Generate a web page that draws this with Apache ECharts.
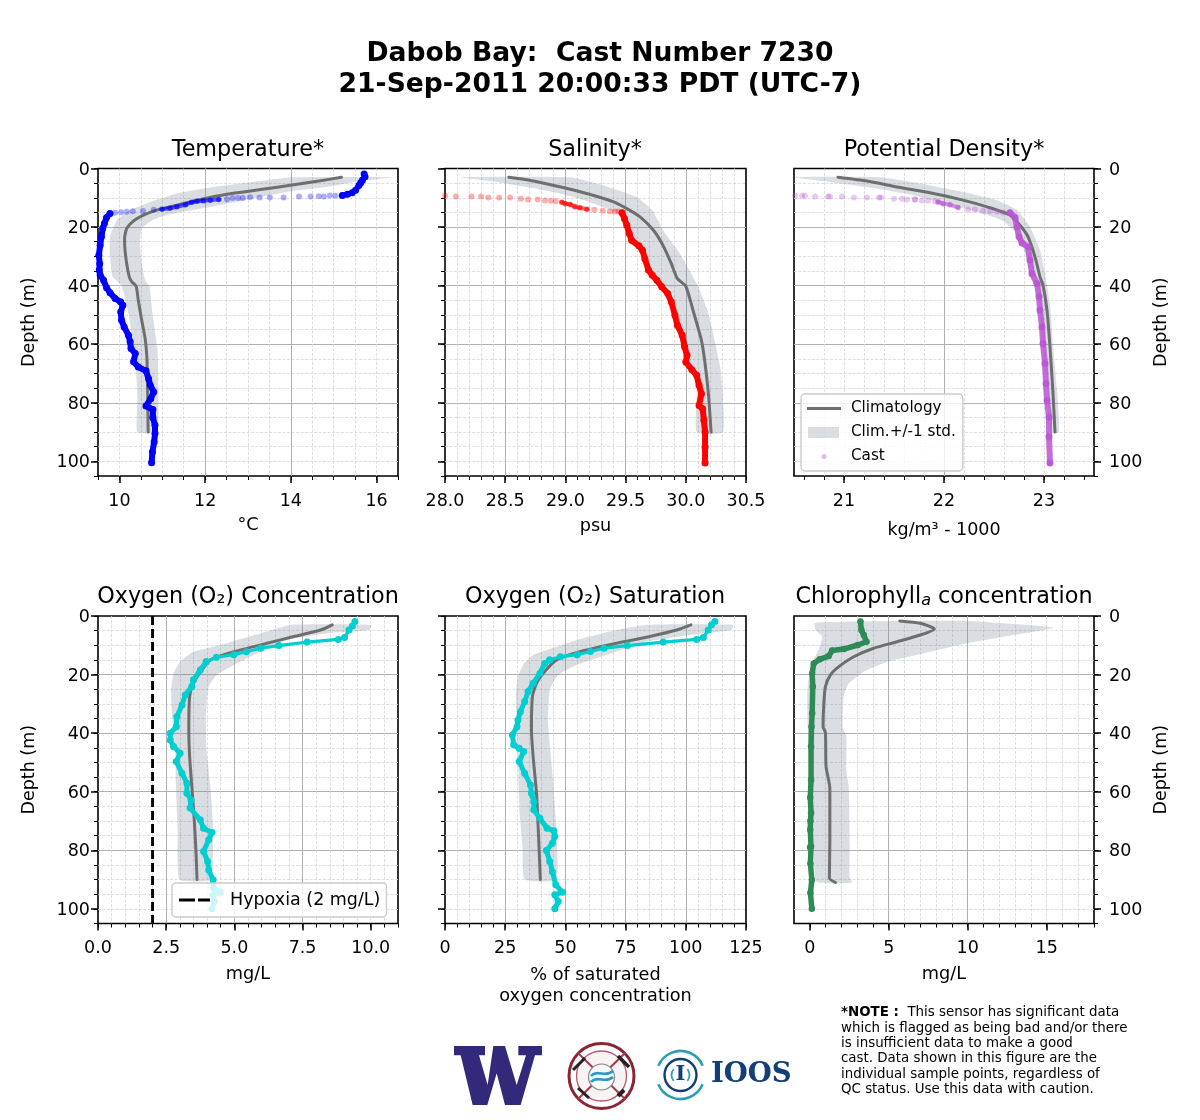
<!DOCTYPE html>
<html><head><meta charset="utf-8">
<style>html,body{margin:0;padding:0;background:#fff}#c{width:1200px;height:1120px}</style>
<script src="https://cdn.jsdelivr.net/npm/echarts@6/dist/echarts.min.js"></script>
</head><body><div id="c"></div>
<script>
/* ---------- tick lists ---------- */
const depthMajor=[0,20,40,60,80,100];
const depthMinor=[0,5,10,15,20,25,30,35,40,45,50,55,60,65,70,75,80,85,90,95,100,105];
const tempMajor=[10,12,14,16];
const tempMinor=[9.5,10,10.5,11,11.5,12,12.5,13,13.5,14,14.5,15,15.5,16,16.5];
const salMajor=[28,28.5,29,29.5,30,30.5];
const salMinor=[28,28.1,28.2,28.3,28.4,28.5,28.6,28.7,28.8,28.9,29,29.1,29.2,29.3,29.4,29.5,29.6,29.7,29.8,29.9,30,30.1,30.2,30.3,30.4,30.5];
const rhoMajor=[21,22,23];
const rhoMinor=[20.6,20.8,21,21.2,21.4,21.6,21.8,22,22.2,22.4,22.6,22.8,23,23.2,23.4];
const doMajor=[0,2.5,5,7.5,10];
const doMinor=[0,0.5,1,1.5,2,2.5,3,3.5,4,4.5,5,5.5,6,6.5,7,7.5,8,8.5,9,9.5,10,10.5,11];
const satMajor=[0,25,50,75,100,125];
const satMinor=[0,5,10,15,20,25,30,35,40,45,50,55,60,65,70,75,80,85,90,95,100,105,110,115,120,125];
const chlMajor=[0,5,10,15];
const chlMinor=[0,1,2,3,4,5,6,7,8,9,10,11,12,13,14,15,16,17,18];

/* ---------- temperature ---------- */
const tempClim=[[15.18,3],[14.69,4.2],[13.99,5.7],[13.29,7.2],[12.51,8.8],[11.89,10.6],[11.34,12.5],[10.87,14.2],[10.56,15.9],[10.33,17.9],[10.17,20.5],[10.12,23.9],[10.13,27.9],[10.17,32.5],[10.23,37],[10.29,38.7],[10.39,40.2],[10.44,45],[10.52,51.8],[10.6,58.1],[10.64,64.4],[10.65,70],[10.66,78],[10.67,90]];
const tempLow=[[14.03,3],[12.98,4.9],[12.12,6.5],[11.34,8.5],[10.72,11.4],[10.25,14.2],[9.94,17.7],[9.78,23.3],[9.78,30.2],[9.84,37],[10.05,39.9],[10.21,49.5],[10.37,64.4],[10.42,78],[10.42,90]];
const tempHigh=[[16.37,3],[15.47,4.6],[14.85,6.3],[14.07,7.6],[13.29,9.7],[12.51,12],[11.89,13.7],[11.26,15.4],[10.8,17.4],[10.52,20.5],[10.48,25.6],[10.52,32.5],[10.6,38.2],[10.7,40.2],[10.78,50.7],[10.89,62],[10.91,78],[10.87,90]];
const tempTop=[[15.71,1.9],[15.73,2.8],[15.67,4],[15.63,4.9],[15.59,5.7],[15.51,7.4],[15.43,8.3],[15.32,8.8],[15.2,9.2]];
const tempDots=[[15.04,9.3],[14.91,9.2],[14.77,9.6],[14.65,9.5],[14.46,9.6],[14.19,9.6],[13.83,9.9],[13.51,9.9],[13.27,9.9],[13.05,9.8],[12.88,10.1],[12.77,10.1],[12.64,10.1],[12.51,10.5],[10.8,14.1],[10.55,14.5],[10.31,14.6],[10.17,14.8],[10.04,14.9],[9.9,15.1]];
const tempMid=[[12.32,10.6],[12.12,10.8],[11.96,11],[11.81,11.2],[11.69,11.5],[11.54,12.4],[11.34,13.1],[11.18,13.6],[10.99,13.9]];
const tempDeep=[[9.78,15.4],[9.7,16.7],[9.65,18.8],[9.61,20.5],[9.58,23.3],[9.55,26.2],[9.52,29.6],[9.54,32.5],[9.53,34.7],[9.55,36.4],[9.63,38.2],[9.7,40.7],[9.78,42.4],[9.9,44.4],[10.03,45.6],[10.08,46.7],[10.03,49],[10.05,51.8],[10.11,54.1],[10.21,56.9],[10.25,59.2],[10.27,61.5],[10.37,63.2],[10.33,66],[10.44,67.8],[10.62,69.1],[10.68,71.8],[10.72,74],[10.8,76.3],[10.73,78.6],[10.62,81.1],[10.78,82.3],[10.78,85],[10.83,87.7],[10.83,90.5],[10.81,93.4],[10.77,96.8],[10.75,100.5]];

/* ---------- salinity ---------- */
const salClim=[[28.53,3],[28.7,4],[28.98,6.5],[29.2,8.8],[29.4,11.4],[29.51,13.7],[29.62,16.5],[29.73,21],[29.81,26.2],[29.88,32.5],[29.93,37.6],[30,40.2],[30.06,48.4],[30.13,58.7],[30.16,66.6],[30.19,78],[30.21,90]];
const salLow=[[28.13,3],[28.43,4.6],[28.7,6.5],[28.98,8.8],[29.2,11.4],[29.4,14.6],[29.51,17],[29.54,23.3],[29.65,30.8],[29.73,37],[29.88,41.6],[29.94,51.8],[30.01,64.4],[30.09,74.6],[30.09,90]];
const salHigh=[[29.04,3],[29.31,5.7],[29.59,9.7],[29.72,14.2],[29.81,21],[29.95,29],[30.09,39.3],[30.18,48.4],[30.24,58.7],[30.29,68.9],[30.31,90]];
const salDots=[[28,9.3],[28.09,9.6],[28.22,9.6],[28.3,9.6],[28.36,9.9],[28.45,9.9],[28.54,9.9],[28.63,10.3],[28.69,10.6],[28.77,10.6],[28.83,10.9],[28.88,11],[28.92,11.2],[29.24,14.1],[29.31,14.4],[29.37,14.7],[29.41,14.7],[29.44,14.7]];
const salMid=[[28.97,11.5],[29,12],[29.04,12.3],[29.08,13.1],[29.12,13.4],[29.18,13.9]];
const salDeep=[[29.47,15.1],[29.49,17.1],[29.51,19.4],[29.53,22.2],[29.55,24.5],[29.61,26.4],[29.64,27.9],[29.66,30.8],[29.69,34.7],[29.72,36.4],[29.76,38.2],[29.8,40.4],[29.85,42.7],[29.88,45.6],[29.91,50.1],[29.93,53.5],[29.97,56.9],[29.99,60.9],[30.01,63.8],[30,66.1],[30.05,68.7],[30.09,70.6],[30.11,74],[30.13,76.9],[30.11,80.9],[30.14,82],[30.15,86],[30.16,90],[30.16,95.1],[30.16,100.6]];

/* ---------- potential density ---------- */
const rhoClim=[[20.94,3],[21.23,4.3],[21.53,6.3],[21.86,8.3],[22.19,10.8],[22.43,13.1],[22.66,15.9],[22.76,19.4],[22.84,23.3],[22.91,30.2],[22.96,37],[22.99,39.9],[23.03,48.4],[23.06,61],[23.09,76.9],[23.11,90]];
const rhoLow=[[20.5,3],[20.86,4.6],[21.26,6.5],[21.69,9.1],[22.03,12],[22.33,14.8],[22.59,17.9],[22.73,22.2],[22.79,26.8],[22.86,34.7],[22.93,40.4],[22.96,50.7],[22.99,61],[23.04,78],[23.06,90]];
const rhoHigh=[[21.36,3],[21.76,5.1],[22.19,8],[22.53,10.8],[22.73,14.2],[22.86,19.9],[22.96,27.9],[23.01,35.9],[23.06,46.1],[23.09,59.8],[23.13,75.7],[23.15,90]];
const rhoDots=[[20.51,9.3],[20.58,9.3],[20.61,9.3],[20.71,9.6],[20.84,9.6],[20.86,9.6],[20.98,9.6],[21.1,9.9],[21.23,9.9],[21.35,9.9],[21.37,9.9],[21.5,10.3],[21.58,10.3],[21.63,10.6],[21.71,10.6],[21.71,10.6],[21.78,10.9],[21.84,11],[21.91,11.2],[22.24,14],[22.31,14],[22.39,14.4],[22.46,14.6],[22.53,14.8],[22.59,15]];
const rhoMid=[[21.94,11.4],[21.99,12],[22.06,12.4],[22.14,13.3]];
const rhoDeep=[[22.66,15.1],[22.71,16.7],[22.73,19.9],[22.75,23.3],[22.78,25.4],[22.84,26.8],[22.86,31.3],[22.88,35.9],[22.93,39.3],[22.95,43.8],[22.96,48.4],[22.98,54.1],[22.99,59.8],[23.01,66.6],[23.02,73.5],[23.03,79.2],[23.05,84.9],[23.05,91.7],[23.06,100.6]];

/* ---------- oxygen concentration ---------- */
const doClim=[[8.59,3],[8.16,4.8],[7.18,7],[6.2,9.3],[4.98,12.2],[4.12,15],[3.81,18.4],[3.5,23],[3.36,27.5],[3.33,38.9],[3.36,48],[3.44,58.2],[3.53,69.6],[3.6,82.1],[3.63,90]];
const doLow=[[7.12,3],[5.96,5.9],[4.49,9.9],[3.5,12.2],[3.01,15.6],[2.77,19.6],[2.68,25.3],[2.71,33.2],[2.83,44.6],[2.86,58.2],[2.92,73],[2.99,90]];
const doHigh=[[10.02,3],[9.94,4.8],[8.41,5.9],[6.94,8.2],[5.71,13.3],[4.98,16.7],[4.36,20.1],[4.06,24.1],[3.96,33.2],[3.97,44.6],[4.12,58.2],[4.22,73],[4.12,90]];
const doCast=[[9.42,1.9],[9.33,3.4],[9.2,4.8],[9.04,7.3],[8.81,8],[7.67,8.9],[6.63,10.1],[5.96,11],[5.44,12.2],[4.98,13.2],[4.34,14.1],[3.97,15.6],[3.75,18.4],[3.5,21.8],[3.44,24.1],[3.2,27],[3.08,30.4],[2.89,34.4],[2.87,37.8],[2.65,40],[2.65,42.3],[2.77,44.6],[3.01,46.9],[2.87,49.7],[3.08,53.7],[3.26,57.1],[3.26,60.5],[3.41,62.8],[3.38,65.6],[3.75,69.6],[3.87,72.5],[4.18,73.9],[4.06,76.4],[3.87,80.4],[4.02,83.8],[4.06,86.7],[4.22,90.1],[4.24,92.9],[4.49,94.3],[4.22,95.2],[4.26,97.5],[4.18,100]];
const hypoxia=[[2,0],[2,105]];

/* ---------- oxygen saturation ---------- */
const satClim=[[102.1,3],[96.2,4.8],[85.1,7],[71.2,9.3],[56,12.2],[46.3,15],[41.4,19],[38,23],[36.3,27.5],[35.9,38.9],[36.6,48],[38,60.5],[38.8,74.2],[39.6,90]];
const satLow=[[84.4,3],[71.2,4.8],[57.4,7.6],[46.3,10.5],[36.6,13.3],[32.4,16.7],[30.3,20.7],[29.4,26.4],[29.7,35.5],[30.3,49.1],[31,67.3],[32.2,78.7],[33.1,90]];
const satHigh=[[119.5,3],[119,4.8],[101.7,6.5],[83.7,8.8],[67.1,13.3],[54.6,16.7],[47,20.1],[43.5,25.3],[42.8,36.6],[44.9,56],[46,69.6],[46.3,90]];
const satCast=[[112.1,1.9],[110.7,3],[109.3,4.8],[107.3,7.3],[104.5,8],[90.6,8.9],[75.7,10.1],[66,11],[60.4,12.1],[54.9,13.2],[47.9,13.9],[43.5,15],[41.4,16.2],[39.4,19.6],[36.6,23],[34.5,25.8],[33.1,29.2],[31.3,32.7],[30.3,35.5],[29.9,37.8],[28,40.6],[28.5,44],[30.8,45.2],[32.7,46.3],[30.8,49.7],[33.1,53.7],[35.5,57.7],[35.9,60.5],[36.9,63.4],[36.9,66.2],[39.4,69.1],[42.4,72.5],[45.2,73.3],[45.6,75.3],[44.6,77.6],[42.1,80.1],[43.5,83.8],[44.6,87.3],[46,91.8],[48.8,94.3],[45.6,95.2],[47,97.5],[45.6,100]];

/* ---------- chlorophyll ---------- */
const chlClim=[[5.7,1.7],[7,2.5],[7.89,4.4],[7,6.5],[5.53,8.8],[4.05,11],[2.78,13.9],[1.84,17.3],[1.31,20.1],[0.99,24.1],[0.89,29.8],[0.84,37.8],[0.99,39.8],[1.03,51.4],[1.27,58.8],[1.27,76.5],[1.24,89.5],[1.62,91]];
const chlLow=[[0.32,2.3],[0.36,4.8],[0.78,7],[0.63,10.5],[0.25,15],[-0.06,20.7],[-0.17,27.5],[-0.13,37.8],[0,56],[0.25,76.5],[0.42,90.7]];
const chlHigh=[[9.96,1.7],[15.44,4],[12.91,6.5],[9.96,9.3],[7.22,12.7],[4.89,15.6],[3.42,19],[2.47,23],[2.15,27.5],[2.09,37.8],[2.32,41.2],[2.32,52.6],[2.47,58.8],[2.53,78.7],[2.51,89],[2.68,91]];
const chlCast=[[3.21,1.9],[3.27,4.8],[3.42,6.5],[3.59,8.8],[3.04,9.9],[2.15,11.3],[1.41,11.8],[1.2,13.7],[0.63,14.8],[0.25,16.2],[0.15,19.6],[0.19,24.1],[0.15,33.2],[0.11,37.8],[0.08,44.6],[0.08,56],[0.03,62],[0.08,67.3],[0.04,70],[0.03,73],[0.08,78.7],[0.02,79],[0.04,84.5],[0.13,90.1],[0.04,94.5],[0.13,100]];

/* ---------- labels ---------- */
const figTitle='Dabob Bay:  Cast Number 7230\n21-Sep-2011 20:00:33 PDT (UTC-7)';
const noteLines=['This sensor has significant data','which is flagged as being bad and/or there','is insufficient data to make a good','cast. Data shown in this figure are the','individual sample points, regardless of','QC status. Use this data with caution.'];

/* ---------- style ---------- */
const FONT='DejaVu Sans';
const BAND='rgba(107,119,139,0.25)', CLIM='#6e6e6e';
const LEFTS=[98,445,794], TOPS=[168.5,616], W=300, H=307.5;

const panels=[
 {key:'Temperature',title:'Temperature*',unit:'°C',min:9.5,max:16.5,major:tempMajor,minor:tempMinor,dec:0,clim:tempClim,low:tempLow,high:tempHigh,color:'#0000ff',deep:tempDeep,top:tempTop,dots:tempDots,mid:tempMid,gap:39,col:0,row:0},
 {key:'Salinity',title:'Salinity*',unit:'psu',min:28,max:30.5,major:salMajor,minor:salMinor,dec:1,clim:salClim,low:salLow,high:salHigh,color:'#ff0000',deep:salDeep,dots:salDots,mid:salMid,gap:40,col:1,row:0},
 {key:'Density',title:'Potential Density*',unit:'kg/m³ - 1000',min:20.5,max:23.5,major:rhoMajor,minor:rhoMinor,dec:0,clim:rhoClim,low:rhoLow,high:rhoHigh,color:'#ba55d3',deep:rhoDeep,dots:rhoDots,mid:rhoMid,gap:44,col:2,row:0,legend:true},
 {key:'Oxygen',title:'Oxygen (O₂) Concentration',unit:'mg/L',min:0,max:11,major:doMajor,minor:doMinor,dec:1,clim:doClim,low:doLow,high:doHigh,color:'#00ced1',line:doCast,gap:40,col:0,row:1},
 {key:'Saturation',title:'Oxygen (O₂) Saturation',unit:'% of saturated\noxygen concentration',min:0,max:125,major:satMajor,minor:satMinor,dec:0,clim:satClim,low:satLow,high:satHigh,color:'#00ced1',line:satCast,gap:41,col:1,row:1},
 {key:'Chlorophyll',title:'{t|Chlorophyll}{s|a}{t| concentration}',unit:'mg/L',min:-1,max:18,major:chlMajor,minor:chlMinor,dec:0,clim:chlClim,low:chlLow,high:chlHigh,color:'#2e8b57',line:chlCast,thick:true,gap:40,col:2,row:1}
];

const grid=[],xAxis=[],yAxis=[],series=[],title=[],legend=[];
const bl={color:'#000',width:1.5}, tickFont={fontFamily:FONT,fontSize:17.5,color:'#000'};
const noEnds={showMinLine:false,showMaxLine:false};
const noLine={show:false,onZero:false};

panels.forEach((p,i)=>{
  const left=LEFTS[p.col], top=TOPS[p.row];
  grid.push({left,top,width:p.col===1?301:W,height:H,show:true,borderColor:'#000',borderWidth:1.6,backgroundColor:'transparent'});
  const xb=i*2+1;
  const base={type:'value',gridIndex:i,min:p.min,max:p.max,position:'bottom',axisLine:noLine};
  xAxis.push({...base,axisLabel:{show:false},
    axisTick:{show:true,length:4,lineStyle:{color:'#000',width:1},customValues:p.minor},
    splitLine:{show:true,...noEnds,lineStyle:{color:'#d6d6d6',width:0.8,type:[3,1.5]}}});
  xAxis.push({...base,name:p.unit,nameLocation:'middle',nameGap:p.gap,
    nameTextStyle:{fontFamily:FONT,fontSize:p.legend?17.5:17.7,color:'#000',lineHeight:21},
    axisLabel:{show:true,margin:16,...tickFont,customValues:p.major,showMinLabel:true,showMaxLabel:true,formatter:v=>Number(v).toFixed(p.dec)},
    axisTick:{show:true,length:7,lineStyle:bl,customValues:p.major},
    splitLine:{show:true,...noEnds,lineStyle:{color:'#b0b0b0',width:1}}});
  const side=p.col===2?'right':'left';
  const ybase={type:'value',gridIndex:i,min:0,max:105,inverse:true,position:side,axisLine:noLine};
  yAxis.push({...ybase,axisLabel:{show:false},
    axisTick:{show:true,length:4,lineStyle:{color:'#000',width:1},customValues:depthMinor},
    splitLine:{show:true,...noEnds,lineStyle:{color:'#d6d6d6',width:0.8,type:[3,1.5]}}});
  yAxis.push({...ybase,
    name:p.col===1?'':'Depth (m)',nameLocation:'middle',nameGap:p.col===2?58:60,nameRotate:90,
    nameTextStyle:{fontFamily:FONT,fontSize:17.5,color:'#000'},
    axisLabel:{show:p.col!==1,margin:p.col===2?15:8,...tickFont,customValues:depthMajor,showMinLabel:true,showMaxLabel:true,
      formatter:v=>'{a|'+v+'}',rich:{a:{...tickFont,padding:[3,0,0,0]}}},
    axisTick:{show:true,length:7,lineStyle:bl,customValues:depthMajor},
    splitLine:{show:true,...noEnds,lineStyle:{color:'#b0b0b0',width:1}}});

  title.push({text:p.title,left:left+150,top:top-29.5,textAlign:'center',padding:0,
    textStyle:{fontFamily:FONT,fontSize:22.3,fontWeight:'normal',color:'#000',
      rich:{t:{fontFamily:FONT,fontSize:22.3,color:'#000'},s:{fontFamily:FONT,fontSize:16,fontStyle:'italic',color:'#000',verticalAlign:'bottom',padding:[5,0,0,0]}}}});

  const ax={xAxisIndex:xb,yAxisIndex:i*2+1};
  const lg=p.legend;
  const poly=p.low.concat(p.high.slice().reverse());
  series.push({...ax,type:'custom',name:lg?'Clim.+/-1 std.':p.key+' std',coordinateSystem:'cartesian2d',silent:true,z:2,
    data:poly,encode:{x:0,y:1},itemStyle:{color:BAND},
    renderItem:(params,api)=>params.dataIndex===0?{type:'polygon',shape:{points:poly.map(pt=>api.coord(pt)),smooth:0.15},style:{fill:BAND}}:null});
  series.push({...ax,type:'line',name:lg?'Climatology':p.key+' climatology',data:p.clim,symbol:'none',smooth:0.2,silent:true,z:3,
    itemStyle:{color:CLIM},lineStyle:{color:CLIM,width:3,cap:'round',join:'round'}});
  const solid=(name,data,w,op,sym)=>series.push({...ax,type:'line',name,data,z:4,silent:true,symbol:'circle',symbolSize:sym,showSymbol:true,showAllSymbol:true,
    itemStyle:{color:p.color,opacity:op},lineStyle:{color:p.color,width:w,opacity:op,cap:'round',join:'round'}});
  if(p.dots) series.push({...ax,type:'scatter',name:lg?'Cast':p.key+' cast',data:p.dots,symbol:'circle',symbolSize:6,z:4,silent:true,clip:true,
    itemStyle:{color:p.color,opacity:0.32}});
  if(p.top) solid(p.key+' cast near surface',p.top,5.5,1,7);
  if(p.mid) solid(p.key+' cast thermocline',p.mid,4,0.62,5.5);
  if(p.deep) solid(p.key+' cast deep',p.deep,6,p.key==='Density'?0.85:1,7);
  if(p.line&&p.thick) solid(p.key+' cast',p.line,5.5,1,6.5);
  if(p.line&&!p.thick){
    solid(p.key+' cast near surface',p.line.filter(q=>q[1]<=15.6),3.2,1,7);
    solid(p.key+' cast',p.line.filter(q=>q[1]>=15),5,1,7);
  }
});

/* hypoxia reference line, in the oxygen panel */
series.push({xAxisIndex:7,yAxisIndex:7,type:'line',name:'Hypoxia (2 mg/L)',data:hypoxia,symbol:'none',silent:true,z:5,
  itemStyle:{color:'#000'},lineStyle:{color:'#000',width:2.9,type:[9,4]}});

/* legend glyphs: tiny corner marks keep every icon at the full item box */
const climIcon='path://M0 0h.01v.01z M34 14h-.01v-.01z M0 5.5h34v3H0z';
const bandIcon='path://M0 0h.01v.01z M34 14h-.01v-.01z M1 1.5h31v11H1z';
const castIcon='path://M0 0h.01v.01z M34 14h-.01v-.01z M19.5 7a2.5 2.5 0 1 1 -5 0a2.5 2.5 0 1 1 5 0z';
const hypoxiaIcon='path://M0 0h.01v.01z M31 14h-.01v-.01z M0 5.5h16v3H0z M19 5.5h12v3H19z';
legend.push({left:801,top:394,z:10,orient:'vertical',selectedMode:false,itemWidth:34,itemHeight:14,itemGap:9,padding:[7,7,7,6],
  backgroundColor:'rgba(255,255,255,0.8)',borderColor:'#cccccc',borderWidth:1.4,borderRadius:4,
  textStyle:{fontFamily:FONT,fontSize:15.2,color:'#000',padding:[0,0,0,5]},
  data:[{name:'Climatology',icon:climIcon},{name:'Clim.+/-1 std.',icon:bandIcon},{name:'Cast',icon:castIcon,itemStyle:{color:'#ba55d3',opacity:0.4}}]});
legend.push({left:172,top:883,z:10,orient:'vertical',selectedMode:false,itemWidth:31,itemHeight:14,padding:[8,6,8,7],
  backgroundColor:'rgba(255,255,255,0.8)',borderColor:'#cccccc',borderWidth:1.4,borderRadius:4,
  textStyle:{fontFamily:FONT,fontSize:17.5,color:'#000',padding:[0,0,0,15]},
  data:[{name:'Hypoxia (2 mg/L)',icon:hypoxiaIcon}]});

/* logo outline of the W, in page pixels */
const wLogo=[[12,18],[105,18],[105,46],[87,46],[113,135],[130,18],[165,18],[200,135],[228,46],[205,46],[205,18],[276,18],[276,46],[255,46],[212,195],[165,195],[140,100],[112,195],[68,195],[32,46],[12,46]].map(q=>[450+q[0]/3,1040+q[1]/3]);

/* figure title, note and logos */
const graphic=[
 {type:'text',left:'center',top:39,z:10,style:{text:figTitle,fontFamily:FONT,fontSize:26.6,fontWeight:'bold',fill:'#000',textAlign:'center',lineHeight:31}},
 {type:'text',x:841,y:1005,z:10,style:{fontFamily:FONT,fontSize:13.4,lineHeight:15.4,fill:'#000',
   text:'{b|*NOTE :}  '+noteLines.join('\n'),rich:{b:{fontFamily:FONT,fontSize:13.4,fontWeight:'bold'}}}},
 {type:'polygon',z:10,shape:{points:wLogo},style:{fill:'#32297a'}},
 {type:'circle',z:10,shape:{cx:601.5,cy:1076,r:32.5},style:{fill:'#fff',stroke:'#8c2433',lineWidth:3}},
 {type:'circle',z:10,shape:{cx:601.5,cy:1076,r:25},style:{fill:'#faf3f4',stroke:'#b35a6a',lineWidth:1.3}},
 {type:'line',z:10,shape:{x1:578,y1:1053,x2:625,y2:1099},style:{stroke:'#a33a4c',lineWidth:2}},
 {type:'line',z:10,shape:{x1:625,y1:1053,x2:578,y2:1099},style:{stroke:'#a33a4c',lineWidth:2}},
 {type:'line',z:10,shape:{x1:573,y1:1070,x2:585,y2:1058},style:{stroke:'#222',lineWidth:3}},
 {type:'line',z:10,shape:{x1:618,y1:1056,x2:629,y2:1067},style:{stroke:'#222',lineWidth:3.5}},
 {type:'line',z:10,shape:{x1:578,y1:1088,x2:589,y2:1098},style:{stroke:'#222',lineWidth:3}},
 {type:'line',z:10,shape:{x1:618,y1:1096,x2:624,y2:1090},style:{stroke:'#222',lineWidth:4}},
 {type:'circle',z:10,shape:{cx:601.5,cy:1077,r:13},style:{fill:'#f6f9fa',stroke:'#888',lineWidth:1.2}},
 {type:'bezierCurve',z:11,shape:{x1:591,y1:1076,cpx1:597,cpy1:1069,cpx2:606,cpy2:1078,x2:613,y2:1071},style:{stroke:'#2f97c4',lineWidth:2.6,fill:'none'}},
 {type:'bezierCurve',z:11,shape:{x1:591,y1:1082,cpx1:597,cpy1:1075,cpx2:606,cpy2:1084,x2:613,y2:1077},style:{stroke:'#2f97c4',lineWidth:2.6,fill:'none'}},
 {type:'arc',z:10,shape:{cx:680.5,cy:1075,r:24,startAngle:-2.75,endAngle:-0.4},style:{stroke:'#2a9fb3',lineWidth:2.6,fill:'none'}},
 {type:'arc',z:10,shape:{cx:680.5,cy:1075,r:24,startAngle:0.4,endAngle:2.75},style:{stroke:'#2a9fb3',lineWidth:2.6,fill:'none'}},
 {type:'arc',z:10,shape:{cx:680.5,cy:1075,r:16,startAngle:0,endAngle:6.283},style:{stroke:'#123f76',lineWidth:2.4,fill:'none'}},
 {type:'arc',z:10,shape:{cx:680.5,cy:1075,r:9,startAngle:-0.7,endAngle:0.7},style:{stroke:'#2a9fb3',lineWidth:1.8,fill:'none'}},
 {type:'arc',z:10,shape:{cx:680.5,cy:1075,r:9,startAngle:2.44,endAngle:3.84},style:{stroke:'#2a9fb3',lineWidth:1.8,fill:'none'}},
 {type:'text',x:680.5,y:1075,z:10,style:{text:'I',fontFamily:'DejaVu Serif',fontSize:21,fontWeight:'bold',fill:'#123f76',textAlign:'center',textVerticalAlign:'middle'}},
 {type:'text',x:711,y:1075,z:10,style:{text:'IOOS',fontFamily:'DejaVu Serif',fontSize:27.5,fontWeight:'bold',fill:'#123f76',textVerticalAlign:'middle'}}
];

const chart=echarts.init(document.getElementById('c'),null,{renderer:'canvas'});
chart.setOption({animation:false,backgroundColor:'#fff',grid,xAxis,yAxis,series,title,legend,graphic});
</script></body></html>
